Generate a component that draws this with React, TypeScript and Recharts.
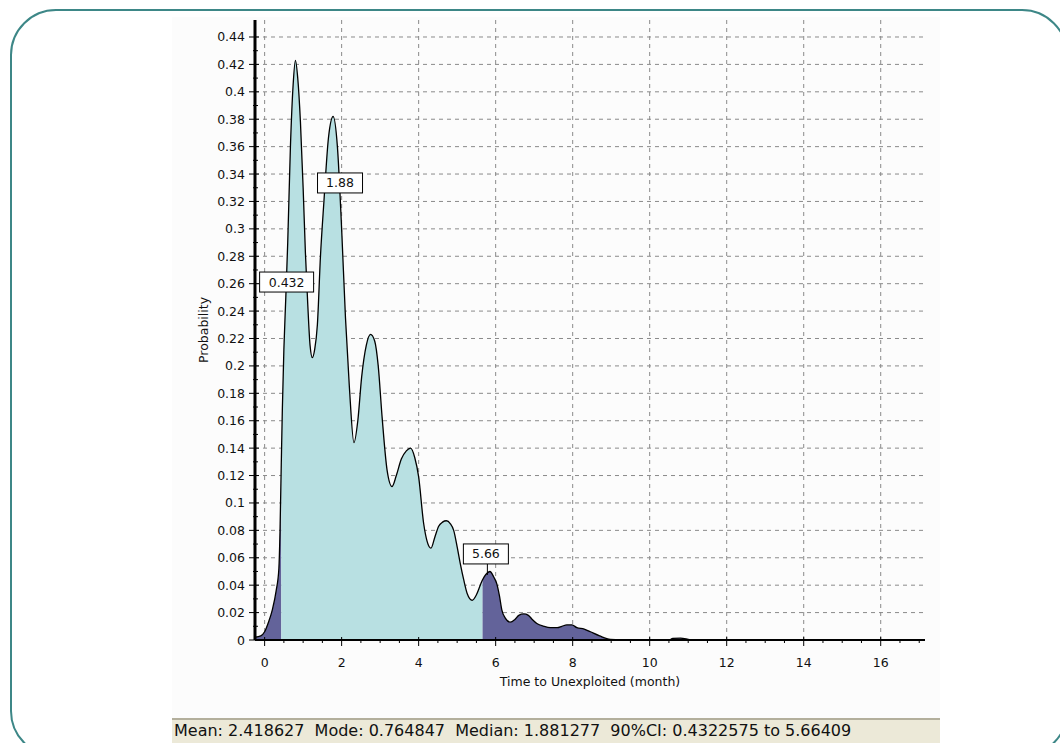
import {
  ComposedChart,
  Area,
  Line,
  XAxis,
  YAxis,
  CartesianGrid,
  ReferenceDot,
} from "recharts";

// months on the x axis and the probability
const months = [
  -0.25, -0.1, 0, 0.1, 0.2, 0.3, 0.37, 0.4, 0.432, 0.46, 0.5, 0.55, 0.6, 0.67,
  0.74, 0.8, 0.86, 0.93, 1.0, 1.06, 1.12, 1.18, 1.24, 1.3, 1.37, 1.45, 1.54,
  1.66, 1.78, 1.89, 2.0, 2.1, 2.2, 2.32, 2.42, 2.52, 2.64, 2.75, 2.86, 2.95,
  3.05, 3.18, 3.31, 3.42, 3.55, 3.68, 3.79, 3.9, 4.0, 4.13, 4.22, 4.32, 4.42,
  4.52, 4.62, 4.72, 4.82, 4.91, 5.0, 5.08, 5.17, 5.26, 5.39, 5.5, 5.6, 5.66,
  5.75, 5.85, 5.95, 6.03, 6.1, 6.16, 6.25, 6.38, 6.5, 6.6, 6.73, 6.85, 6.95,
  7.07, 7.25, 7.42, 7.6, 7.72, 7.85, 7.98, 8.11, 8.3, 8.46, 8.7, 8.98, 9.5,
  10.5, 10.6, 10.8, 11.0, 11.1, 12, 14, 16, 17.15,
];

const probability = [
  0.002, 0.003, 0.006, 0.013, 0.022, 0.036, 0.052, 0.08, 0.128, 0.168, 0.212,
  0.25, 0.29, 0.36, 0.405, 0.423, 0.41, 0.378, 0.33, 0.282, 0.245, 0.215,
  0.206, 0.212, 0.23, 0.28, 0.32, 0.367, 0.382, 0.36, 0.3, 0.235, 0.185, 0.144,
  0.16, 0.192, 0.215, 0.223, 0.218, 0.2, 0.163, 0.124, 0.112, 0.12, 0.132,
  0.138, 0.14, 0.133, 0.119, 0.085, 0.072, 0.067, 0.075, 0.083, 0.086, 0.087,
  0.085, 0.08, 0.068, 0.056, 0.044, 0.034, 0.029, 0.033, 0.04, 0.044, 0.048,
  0.05, 0.046, 0.041, 0.032, 0.022, 0.016, 0.013, 0.015, 0.018, 0.019, 0.018,
  0.015, 0.012, 0.01, 0.009, 0.009, 0.01, 0.011, 0.011, 0.009, 0.008, 0.006,
  0.003, 0.0005, 0, 0, 0.0012, 0.0013, 0.0005, 0, 0, 0, 0, 0,
];

// 90% confidence interval bounds
const ciLow = 0.432;
const ciHigh = 5.66;

const xMajorTicks = [0, 2, 4, 6, 8, 10, 12, 14, 16];
const yMajorTicks = [
  0, 0.02, 0.04, 0.06, 0.08, 0.1, 0.12, 0.14, 0.16, 0.18, 0.2, 0.22, 0.24,
  0.26, 0.28, 0.3, 0.32, 0.34, 0.36, 0.38, 0.4, 0.42, 0.44,
];

const annotations = [
  { text: "0.432", x: 0.571, y: 0.2612, w: 54, stem: 0 },
  { text: "1.88", x: 1.958, y: 0.3335, w: 45, stem: 0 },
  { text: "5.66", x: 5.746, y: 0.0628, w: 45, stem: 11 },
];

const statusText =
  "Mean: 2.418627  Mode: 0.764847  Median: 1.881277  90%CI: 0.4322575 to 5.66409";

const xDomain: [number, number] = [-0.25, 17.15];
const yDomain: [number, number] = [0, 0.4524];

const xMinorTicks = xMajorTicks
  .flatMap((v) => [v + 0.5, v + 1, v + 1.5])
  .filter((v) => v <= xDomain[1]);
const yMinorTicks = yMajorTicks
  .slice(0, -1)
  .map((v) => +(v + 0.01).toFixed(2));

const xTicks = [...xMajorTicks, ...xMinorTicks].sort((a, b) => a - b);
const yTicks = [...yMajorTicks, ...yMinorTicks].sort((a, b) => a - b);

const data = months.map((m, i) => {
  const y = probability[i];
  return {
    m,
    y,
    lo: m <= ciLow ? y : null,
    mid: m >= ciLow && m <= ciHigh ? y : null,
    hi: m >= ciHigh ? y : null,
  };
});

const FONT = "'DejaVu Sans', sans-serif";
const FS = 12.5;

function YTick({ x, y, payload }: any) {
  const major = yMajorTicks.includes(payload.value);
  if (!major) {
    return <line x1={x - 2} x2={x + 3} y1={y} y2={y} stroke="#000" />;
  }
  return (
    <g>
      <line x1={x - 6} x2={x + 4} y1={y} y2={y} stroke="#000" />
      <text
        x={x - 10}
        y={y}
        dy="0.36em"
        textAnchor="end"
        fontFamily={FONT}
        fontSize={FS}
        fill="#111"
      >
        {String(payload.value)}
      </text>
    </g>
  );
}

function XTick({ x, y, payload }: any) {
  const major = xMajorTicks.includes(payload.value);
  if (!major) {
    return <line x1={x} x2={x} y1={y} y2={y + 3} stroke="#000" />;
  }
  return (
    <g>
      <line x1={x} x2={x} y1={y - 3} y2={y + 6} stroke="#000" />
      <text
        x={x}
        y={y + 22}
        dy="0.36em"
        textAnchor="middle"
        fontFamily={FONT}
        fontSize={FS}
        fill="#111"
      >
        {String(payload.value)}
      </text>
    </g>
  );
}

function makeBox(a: (typeof annotations)[number]) {
  return (props: any) => {
    const { cx, cy } = props;
    const h = 20;
    return (
      <g>
        {a.stem > 0 && (
          <line
            x1={cx + 1.5}
            x2={cx + 1.5}
            y1={cy + h / 2}
            y2={cy + h / 2 + a.stem}
            stroke="#000"
          />
        )}
        <rect
          x={cx - a.w / 2}
          y={cy - h / 2}
          width={a.w}
          height={h}
          fill="#fff"
          stroke="#000"
        />
        <text
          x={cx}
          y={cy}
          dy="0.36em"
          textAnchor="middle"
          fontFamily={FONT}
          fontSize={FS}
          fill="#111"
        >
          {a.text}
        </text>
      </g>
    );
  };
}

export default function App() {
  return (
    <div
      style={{
        position: "absolute",
        left: 0,
        top: 0,
        width: 1060,
        height: 743,
        overflow: "hidden",
        background: "#fff",
      }}
    >
      {/* rounded slide frame */}
      <div
        style={{
          position: "absolute",
          left: 10,
          top: 9,
          width: 1058,
          height: 748,
          border: "2.5px solid #3d8787",
          borderRadius: 46,
          boxSizing: "border-box",
        }}
      />
      {/* chart panel */}
      <div
        style={{
          position: "absolute",
          left: 172,
          top: 17,
          width: 768,
          height: 701,
          background: "#fcfcfc",
        }}
      />
      {/* status bar */}
      <div
        style={{
          position: "absolute",
          left: 172,
          top: 718,
          width: 768,
          height: 30,
          background: "#ece9d8",
          borderTop: "2px solid #b3af9c",
          boxSizing: "border-box",
          fontFamily: FONT,
          fontSize: 16,
          color: "#111",
          whiteSpace: "pre",
          paddingLeft: 2,
          lineHeight: "22px",
        }}
      >
        {statusText}
      </div>
      <div style={{ position: "absolute", left: 0, top: 0 }}>
        <ComposedChart
          width={1060}
          height={743}
          data={data}
          margin={{ top: 20, right: 135, left: 195, bottom: 53 }}
        >
          <CartesianGrid
            stroke="#8a8a8a"
            strokeDasharray="4 4"
            horizontalValues={yMajorTicks.slice(1)}
            verticalValues={xMajorTicks}
          />
          <XAxis
            dataKey="m"
            type="number"
            domain={xDomain}
            ticks={xTicks}
            interval={0}
            allowDataOverflow
            height={50}
            tickSize={0}
            tickMargin={0}
            tickLine={false}
            tick={<XTick />}
            axisLine={{ stroke: "#000", strokeWidth: 2 }}
            label={{
              content: (p: any) => (
                <text
                  x={p.viewBox.x + p.viewBox.width / 2}
                  y={p.viewBox.y + 41}
                  dy="0.36em"
                  textAnchor="middle"
                  fontFamily={FONT}
                  fontSize={FS}
                  fill="#111"
                >
                  Time to Unexploited (month)
                </text>
              ),
            }}
          />
          <YAxis
            type="number"
            domain={yDomain}
            ticks={yTicks}
            interval={0}
            allowDataOverflow
            width={60}
            tickSize={0}
            tickMargin={0}
            tickLine={false}
            tick={<YTick />}
            axisLine={{ stroke: "#000", strokeWidth: 3 }}
            label={{
              content: (p: any) => {
                const cx = p.viewBox.x + 8;
                const cy = p.viewBox.y + p.viewBox.height / 2;
                return (
                  <text
                    x={cx}
                    y={cy}
                    dy="0.36em"
                    textAnchor="middle"
                    transform={`rotate(-90, ${cx}, ${cy})`}
                    fontFamily={FONT}
                    fontSize={FS}
                    fill="#111"
                  >
                    Probability
                  </text>
                );
              },
            }}
          />
          <Area
            dataKey="lo"
            type="monotone"
            stroke="none"
            fill="#63639a"
            fillOpacity={1}
            isAnimationActive={false}
          />
          <Area
            dataKey="mid"
            type="monotone"
            stroke="none"
            fill="#b8e0e2"
            fillOpacity={1}
            isAnimationActive={false}
          />
          <Area
            dataKey="hi"
            type="monotone"
            stroke="none"
            fill="#63639a"
            fillOpacity={1}
            isAnimationActive={false}
          />
          <Line
            dataKey="y"
            type="monotone"
            stroke="#000"
            strokeWidth={1.3}
            dot={false}
            isAnimationActive={false}
          />
          {annotations.map((a) => (
            <ReferenceDot
              key={a.text}
              x={a.x}
              y={a.y}
              r={0}
              shape={makeBox(a)}
            />
          ))}
        </ComposedChart>
      </div>
    </div>
  );
}
